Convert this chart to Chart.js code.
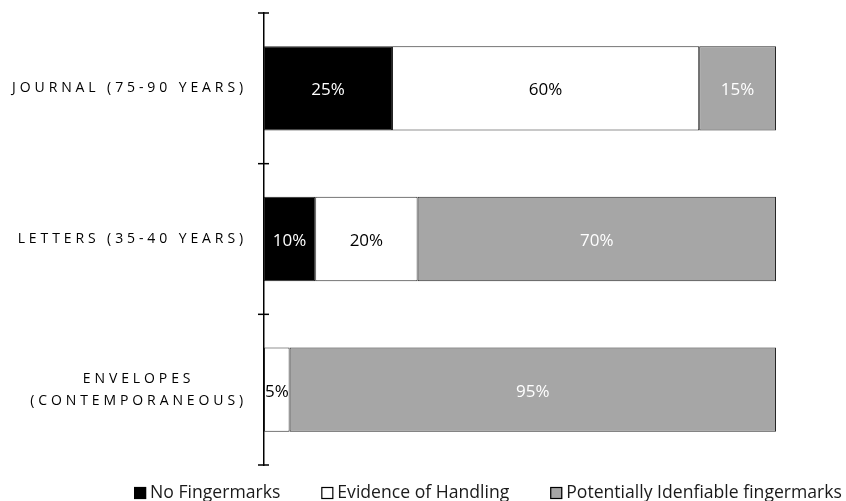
<!DOCTYPE html>
<html>
<head>
<meta charset="utf-8">
<script src="https://cdn.jsdelivr.net/npm/chart.js@4"></script>
<style>
  html, body { margin: 0; padding: 0; background: #fff; }
  #wrap { width: 846px; height: 501px; position: relative; }
</style>
</head>
<body>
<div id="wrap"><canvas id="chart"></canvas></div>
<script>
// categories (multi-line labels are arrays of lines)
const categories = [
  ['JOURNAL (75-90 YEARS)'],
  ['LETTERS (35-40 YEARS)'],
  ['ENVELOPES', '(CONTEMPORANEOUS)'],
];

const seriesNames = [
  'No Fingermarks',
  'Evidence of Handling',
  'Potentially Idenfiable fingermarks',
];

// percentages per category
const noFingermarks = [25, 10, 0];
const evidenceOfHandling = [60, 20, 5];
const potentiallyIdentifiable = [15, 70, 95];

const fillColors = ['#000000', '#ffffff', '#a6a6a6'];
const valueColors = ['#ffffff', '#000000', '#ffffff'];
const edgeColor = '#262626';
const fontFamily = '"Open Sans", "DejaVu Sans", sans-serif';

// Category labels with letter spacing, plus the cross ticks on the axis.
const categoryLabels = {
  id: 'categoryLabels',
  afterDraw(chart) {
    const { ctx } = chart;
    const scale = chart.scales.y;
    ctx.save();
    ctx.font = `14px ${fontFamily}`;
    ctx.letterSpacing = '3.9px';
    ctx.fillStyle = '#000';
    ctx.textBaseline = 'middle';
    ctx.textAlign = 'center';
    const right = scale.right - 17;
    const lineHeight = 22;
    chart.data.labels.forEach((lines, i) => {
      const widest = Math.max(...lines.map((l) => ctx.measureText(l).width));
      const cx = right - widest / 2;
      const y0 = scale.getPixelForTick(i) - ((lines.length - 1) * lineHeight) / 2;
      lines.forEach((line, j) => ctx.fillText(line, cx, y0 + j * lineHeight));
    });

    ctx.strokeStyle = '#000';
    ctx.lineWidth = 1.5;
    for (let i = 0; i <= chart.data.labels.length; i++) {
      const y = scale.getPixelForValue(i - 0.5);
      ctx.beginPath();
      ctx.moveTo(scale.right - 6, y);
      ctx.lineTo(scale.right + 5, y);
      ctx.stroke();
    }
    ctx.restore();
  },
};

// Percent labels centred in every non-empty segment.
const valueLabels = {
  id: 'valueLabels',
  afterDatasetsDraw(chart) {
    const { ctx } = chart;
    ctx.save();
    ctx.font = `17px ${fontFamily}`;
    ctx.textAlign = 'center';
    ctx.textBaseline = 'middle';
    chart.data.datasets.forEach((ds, di) => {
      ctx.fillStyle = valueColors[di];
      chart.getDatasetMeta(di).data.forEach((bar, i) => {
        const v = ds.data[i];
        if (!v) return;
        const { x, y, base } = bar.getProps(['x', 'y', 'base'], true);
        ctx.fillText(`${v}%`, (x + base) / 2, y + 2);
      });
    });
    ctx.restore();
  },
};

// Legend row under the plot, square boxes like the source.
const bottomLegend = {
  id: 'bottomLegend',
  afterDraw(chart) {
    const { ctx } = chart;
    const box = 12;
    const boxGap = 4;
    const itemGap = 41;
    const centerX = 488;
    const y = 493;
    ctx.save();
    ctx.font = `17.6px ${fontFamily}`;
    ctx.textBaseline = 'middle';
    ctx.textAlign = 'left';
    const items = chart.data.datasets.map((ds) => ({
      ds,
      w: box + boxGap + ctx.measureText(ds.label).width,
    }));
    const total = items.reduce((s, it) => s + it.w, 0) + itemGap * (items.length - 1);
    let x = centerX - total / 2;
    items.forEach(({ ds, w }) => {
      ctx.fillStyle = ds.backgroundColor;
      ctx.fillRect(x, y - box / 2, box, box);
      ctx.strokeStyle = '#000';
      ctx.lineWidth = 1.2;
      ctx.strokeRect(x + 0.5, y - box / 2 + 0.5, box - 1, box - 1);
      ctx.fillStyle = '#1a1a1a';
      ctx.fillText(ds.label, x + box + boxGap, y);
      x += w + itemGap;
    });
    ctx.restore();
  },
};

const seriesData = [noFingermarks, evidenceOfHandling, potentiallyIdentifiable];

new Chart(document.getElementById('chart'), {
  type: 'bar',
  data: {
    labels: categories,
    datasets: seriesNames.map((name, i) => ({
      label: name,
      data: seriesData[i],
      backgroundColor: fillColors[i],
      borderColor: edgeColor,
      borderWidth: 1,
      borderSkipped: false,
      barPercentage: 0.56,
      categoryPercentage: 1,
    })),
  },
  options: {
    indexAxis: 'y',
    responsive: true,
    maintainAspectRatio: false,
    animation: false,
    layout: { padding: { top: 13, right: 70, bottom: 36, left: 0 } },
    plugins: {
      legend: { display: false },
      tooltip: { enabled: false },
    },
    scales: {
      x: {
        stacked: true,
        min: 0,
        max: 100,
        display: false,
      },
      y: {
        stacked: true,
        grid: { display: false },
        border: { display: true, color: '#000', width: 1.5 },
        ticks: { display: false },
        afterFit(scale) { scale.width = 264; },
      },
    },
  },
  plugins: [categoryLabels, valueLabels, bottomLegend],
});
</script>
</body>
</html>
